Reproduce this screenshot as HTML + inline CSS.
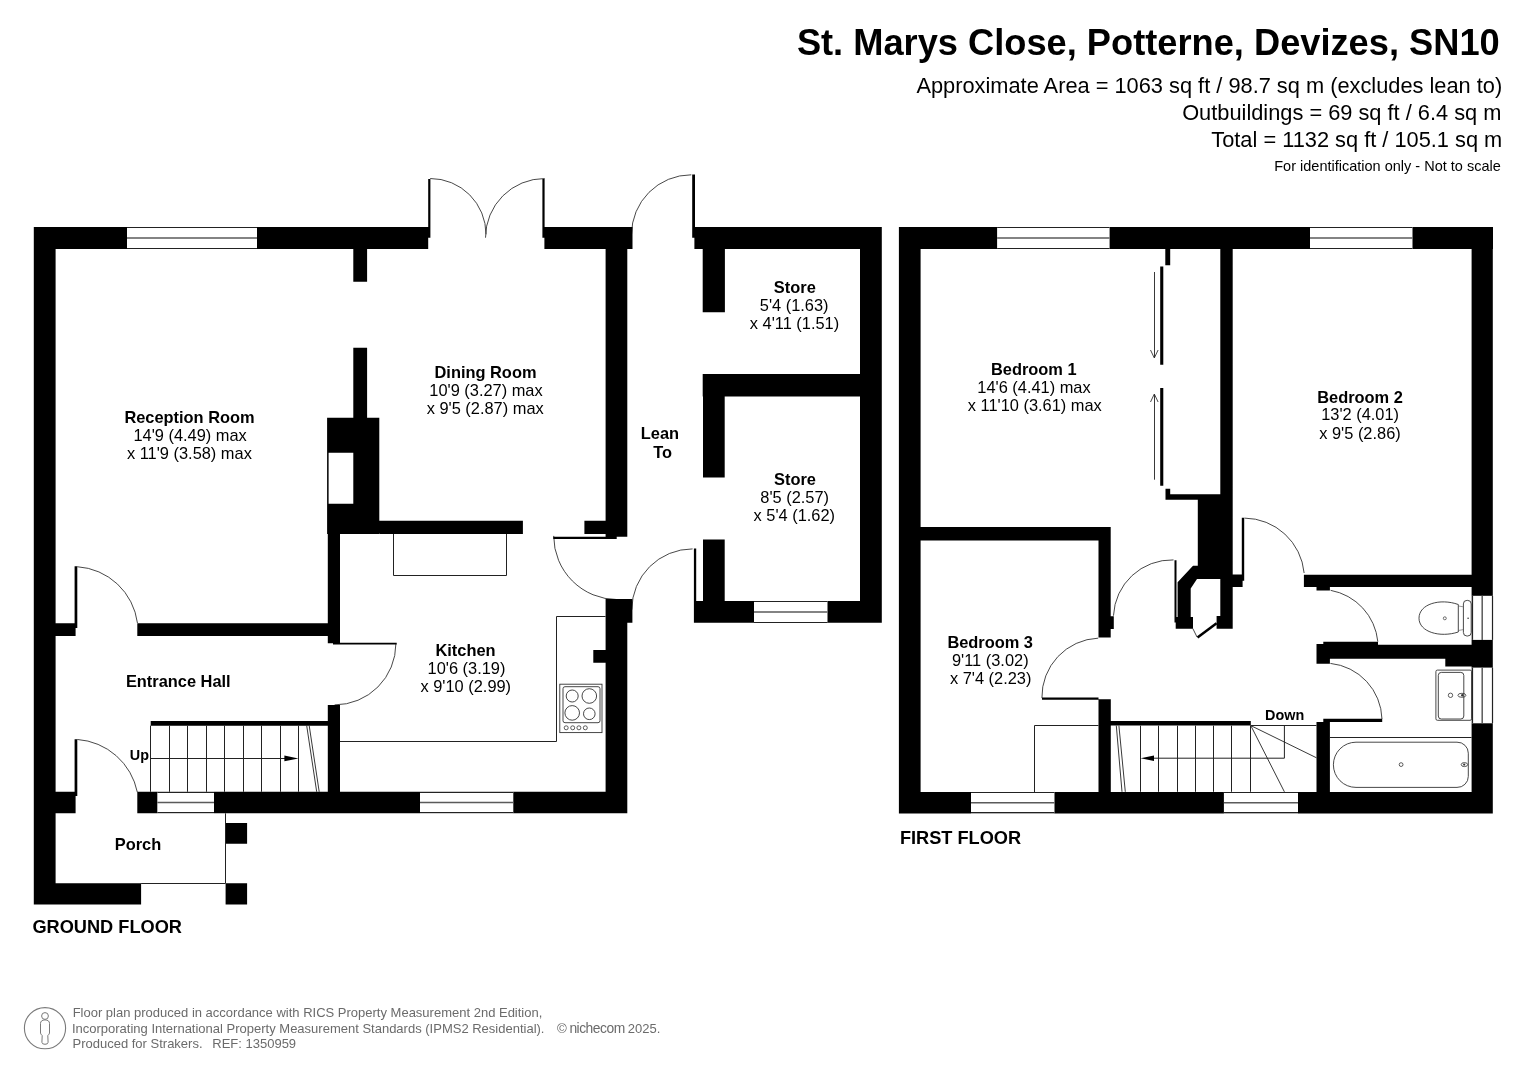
<!DOCTYPE html>
<html><head><meta charset="utf-8"><title>St. Marys Close floor plan</title>
<style>
html,body{margin:0;padding:0;background:#fff;}
body{width:1527px;height:1080px;overflow:hidden;}
svg{display:block;font-family:"Liberation Sans",sans-serif;will-change:transform;}
</style></head><body>
<svg width="1527" height="1080" viewBox="0 0 1527 1080">
<rect width="1527" height="1080" fill="#fff"/>
<path d="M430.20 178.50 A55.80 55.80 0 0 1 486.00 234.30" fill="none" stroke="#333" stroke-width="0.9"/>
<path d="M544.70 178.50 A59.20 59.20 0 0 0 485.50 237.70" fill="none" stroke="#333" stroke-width="0.9"/>
<path d="M77.30 566.73 A64.80 64.80 0 0 1 137.46 623.08" fill="none" stroke="#333" stroke-width="0.9"/>
<path d="M553.70 535.90 A63.70 63.70 0 0 0 617.40 599.60" fill="none" stroke="#333" stroke-width="0.9"/>
<path d="M395.90 643.60 A61.30 61.30 0 0 1 334.60 704.90" fill="none" stroke="#333" stroke-width="0.9"/>
<path d="M77.31 739.46 A66.00 66.00 0 0 1 137.34 792.19" fill="none" stroke="#333" stroke-width="0.9"/>
<path d="M691.30 174.80 A59.80 59.80 0 0 0 631.50 234.60" fill="none" stroke="#333" stroke-width="0.9"/>
<path d="M692.60 548.90 A60.80 60.80 0 0 0 631.80 609.70" fill="none" stroke="#333" stroke-width="0.9"/>
<path d="M1098.20 638.15 A58.80 58.80 0 0 0 1041.91 698.10" fill="none" stroke="#333" stroke-width="0.9"/>
<path d="M1173.50 559.92 A58.50 58.50 0 0 0 1113.46 615.70" fill="none" stroke="#333" stroke-width="0.9"/>
<path d="M1244.50 518.10 A60.50 60.50 0 0 1 1304.14 573.00" fill="none" stroke="#333" stroke-width="0.9"/>
<path d="M1330.61 590.34 A57.90 57.90 0 0 1 1377.82 641.61" fill="none" stroke="#333" stroke-width="0.9"/>
<path d="M1330.38 663.40 A57.50 57.50 0 0 1 1381.98 719.00" fill="none" stroke="#333" stroke-width="0.9"/>
<path fill="#000" d="M33.80 227.00H428.20V249.00H33.80ZM428.20 179.00H430.40V237.80H428.20ZM542.40 179.00H544.60V237.80H542.40ZM544.40 227.00H632.50V249.00H544.40ZM33.80 227.00H55.60V904.40H33.80ZM353.30 249.00H367.10V281.80H353.30ZM353.30 347.80H367.10V418.00H353.30ZM327.10 417.80H379.30V452.70H327.10ZM353.30 452.70H379.30V534.00H353.30ZM327.10 503.80H379.30V534.00H327.10ZM327.10 452.70H328.60V503.80H327.10ZM379.30 520.70H522.90V534.00H379.30ZM327.80 534.00H340.00V643.30H327.80ZM327.80 704.90H340.00V813.30H327.80ZM55.60 623.30H75.60V636.00H55.60ZM137.30 623.30H327.80V636.00H137.30ZM74.60 566.20H77.30V628.00H74.60ZM605.60 249.00H627.30V536.70H605.60ZM584.40 520.70H627.30V534.00H584.40ZM553.30 536.80H616.70V539.00H553.30ZM605.60 598.90H632.40V622.70H605.60ZM605.60 622.00H627.30V813.30H605.60ZM593.30 650.00H606.00V662.70H593.30ZM333.00 642.70H396.70V644.60H333.00ZM55.60 791.80H75.60V813.30H55.60ZM137.30 791.80H627.30V813.30H137.30ZM74.60 739.30H77.30V796.00H74.60ZM33.80 883.30H141.10V904.40H33.80ZM225.60 822.90H247.10V843.80H225.60ZM225.60 883.30H247.10V904.40H225.60ZM150.70 721.10H327.80V725.80H150.70ZM694.40 227.00H881.80V249.00H694.40ZM692.20 174.40H695.00V237.80H692.20ZM860.00 227.00H881.80V622.70H860.00ZM702.70 249.00H724.90V312.20H702.70ZM702.70 374.00H860.00V396.40H702.70ZM703.00 374.00H724.70V477.50H703.00ZM703.00 539.40H724.70V601.00H703.00ZM693.90 601.00H881.20V622.70H693.90ZM693.90 548.50H696.20V611.00H693.90ZM898.90 227.00H1493.00V249.00H898.90ZM898.90 227.00H920.60V813.40H898.90ZM1471.60 227.00H1492.80V813.40H1471.60ZM898.90 792.00H1492.80V813.40H898.90ZM1220.30 249.00H1232.70V628.70H1220.30ZM1165.30 249.00H1170.20V265.20H1165.30ZM1160.20 266.40H1163.30V364.80H1160.20ZM1160.20 388.00H1163.30V485.80H1160.20ZM1165.50 488.70H1170.20V499.70H1165.50ZM1165.50 494.20H1220.30V499.70H1165.50ZM1197.80 494.20H1220.30V565.70H1197.80ZM1193 565.7 L1220.3 565.7 L1220.3 579.1 L1197 579.1 L1190.7 588.6 L1190.7 616.9 L1193 616.9 L1193 628.7 L1175.7 628.7 L1175.7 616.9 L1177.6 616.9 L1177.6 582.3 ZM1216.60 616.10H1232.70V628.70H1216.60ZM920.60 526.90H1110.70V540.40H920.60ZM1098.50 526.90H1110.70V637.60H1098.50ZM1110.70 616.20H1113.80V629.00H1110.70ZM1098.50 699.30H1110.80V813.40H1098.50ZM1042.00 697.60H1098.50V699.80H1042.00ZM1174.50 560.20H1176.50V622.40H1174.50ZM1241.80 517.80H1244.20V580.70H1241.80ZM1232.70 574.40H1242.60V587.00H1232.70ZM1303.90 574.70H1471.60V587.00H1303.90ZM1316.50 587.00H1329.90V590.50H1316.50ZM1323.30 641.70H1378.00V644.80H1323.30ZM1316.50 644.80H1471.60V658.70H1316.50ZM1316.50 644.00H1329.90V663.70H1316.50ZM1445.30 658.70H1471.60V666.50H1445.30ZM1323.30 718.80H1382.20V722.00H1323.30ZM1316.50 722.00H1329.90V813.40H1316.50ZM1110.80 721.10H1250.80V725.60H1110.80Z"/>
<rect x="127.00" y="227.00" width="130.00" height="22.00" fill="#fff"/>
<line x1="127.0" y1="227.5" x2="257.0" y2="227.5" stroke="#222" stroke-width="1.2"/>
<line x1="127.0" y1="238.0" x2="257.0" y2="238.0" stroke="#5a5a5a" stroke-width="1.5"/>
<line x1="127.0" y1="248.5" x2="257.0" y2="248.5" stroke="#222" stroke-width="1.2"/>
<rect x="157.30" y="791.80" width="56.70" height="21.50" fill="#fff"/>
<line x1="157.3" y1="792.5" x2="214.0" y2="792.5" stroke="#222" stroke-width="1.2"/>
<line x1="157.3" y1="802.5" x2="214.0" y2="802.5" stroke="#5a5a5a" stroke-width="1.5"/>
<line x1="157.3" y1="812.5" x2="214.0" y2="812.5" stroke="#222" stroke-width="1.2"/>
<rect x="420.00" y="791.80" width="93.30" height="21.50" fill="#fff"/>
<line x1="420.0" y1="792.5" x2="513.3" y2="792.5" stroke="#222" stroke-width="1.2"/>
<line x1="420.0" y1="802.5" x2="513.3" y2="802.5" stroke="#5a5a5a" stroke-width="1.5"/>
<line x1="420.0" y1="812.5" x2="513.3" y2="812.5" stroke="#222" stroke-width="1.2"/>
<line x1="225.5" y1="813.3" x2="225.5" y2="883.3" stroke="#222" stroke-width="1.0"/>
<line x1="141.1" y1="883.5" x2="225.6" y2="883.5" stroke="#222" stroke-width="1.0"/>
<line x1="150.5" y1="725.6" x2="150.5" y2="791.8" stroke="#222" stroke-width="1.0"/>
<line x1="169.5" y1="725.6" x2="169.5" y2="791.8" stroke="#222" stroke-width="1.0"/>
<line x1="187.5" y1="725.6" x2="187.5" y2="791.8" stroke="#222" stroke-width="1.0"/>
<line x1="206.5" y1="725.6" x2="206.5" y2="791.8" stroke="#222" stroke-width="1.0"/>
<line x1="224.5" y1="725.6" x2="224.5" y2="791.8" stroke="#222" stroke-width="1.0"/>
<line x1="243.5" y1="725.6" x2="243.5" y2="791.8" stroke="#222" stroke-width="1.0"/>
<line x1="261.5" y1="725.6" x2="261.5" y2="791.8" stroke="#222" stroke-width="1.0"/>
<line x1="280.5" y1="725.6" x2="280.5" y2="791.8" stroke="#222" stroke-width="1.0"/>
<line x1="298.5" y1="725.6" x2="298.5" y2="791.8" stroke="#222" stroke-width="1.0"/>
<line x1="306.7" y1="725.6" x2="316.7" y2="791.8" stroke="#222" stroke-width="0.9"/>
<line x1="309.2" y1="725.6" x2="319.2" y2="791.8" stroke="#222" stroke-width="0.9"/>
<line x1="150.7" y1="758.5" x2="290.0" y2="758.5" stroke="#222" stroke-width="1.0"/>
<path d="M284.4 755.6 L298.4 758.4 L284.4 761.2 Z" fill="#000"/>
<path d="M393.5 534 V575.5 H506.5 V534" fill="none" stroke="#222" stroke-width="1"/>
<path d="M340 741.5 L556.5 741.5 L556.5 616.5 L605.6 616.5" fill="none" stroke="#222" stroke-width="1"/>
<rect x="559.8" y="684.2" width="42.2" height="48.4" fill="none" stroke="#333" stroke-width="0.9"/>
<rect x="563" y="686.7" width="37" height="36" rx="2" fill="none" stroke="#333" stroke-width="0.9"/>
<circle cx="572.2" cy="696" r="6" fill="none" stroke="#333" stroke-width="0.9"/>
<circle cx="589.3" cy="696" r="7.3" fill="none" stroke="#333" stroke-width="0.9"/>
<circle cx="572.2" cy="712.9" r="7.3" fill="none" stroke="#333" stroke-width="0.9"/>
<circle cx="589.3" cy="713.8" r="5.8" fill="none" stroke="#333" stroke-width="0.9"/>
<circle cx="566.2" cy="727.8" r="2" fill="none" stroke="#333" stroke-width="0.8"/>
<circle cx="572.7" cy="727.8" r="2" fill="none" stroke="#333" stroke-width="0.8"/>
<circle cx="578.9" cy="727.8" r="2" fill="none" stroke="#333" stroke-width="0.8"/>
<circle cx="585.3" cy="727.8" r="2" fill="none" stroke="#333" stroke-width="0.8"/>
<rect x="754.00" y="601.00" width="73.50" height="21.70" fill="#fff"/>
<line x1="754.0" y1="601.5" x2="827.5" y2="601.5" stroke="#222" stroke-width="1.2"/>
<line x1="754.0" y1="611.9" x2="827.5" y2="611.9" stroke="#5a5a5a" stroke-width="1.5"/>
<line x1="754.0" y1="622.5" x2="827.5" y2="622.5" stroke="#222" stroke-width="1.2"/>
<rect x="997.10" y="227.00" width="112.50" height="22.00" fill="#fff"/>
<line x1="997.1" y1="227.5" x2="1109.6" y2="227.5" stroke="#222" stroke-width="1.2"/>
<line x1="997.1" y1="238.0" x2="1109.6" y2="238.0" stroke="#5a5a5a" stroke-width="1.5"/>
<line x1="997.1" y1="248.5" x2="1109.6" y2="248.5" stroke="#222" stroke-width="1.2"/>
<rect x="1310.00" y="227.00" width="102.50" height="22.00" fill="#fff"/>
<line x1="1310.0" y1="227.5" x2="1412.5" y2="227.5" stroke="#222" stroke-width="1.2"/>
<line x1="1310.0" y1="238.0" x2="1412.5" y2="238.0" stroke="#5a5a5a" stroke-width="1.5"/>
<line x1="1310.0" y1="248.5" x2="1412.5" y2="248.5" stroke="#222" stroke-width="1.2"/>
<rect x="971.00" y="792.00" width="83.50" height="21.40" fill="#fff"/>
<line x1="971.0" y1="792.5" x2="1054.5" y2="792.5" stroke="#222" stroke-width="1.2"/>
<line x1="971.0" y1="802.7" x2="1054.5" y2="802.7" stroke="#5a5a5a" stroke-width="1.5"/>
<line x1="971.0" y1="812.5" x2="1054.5" y2="812.5" stroke="#222" stroke-width="1.2"/>
<rect x="1223.90" y="792.00" width="74.10" height="21.40" fill="#fff"/>
<line x1="1223.9" y1="792.5" x2="1298.0" y2="792.5" stroke="#222" stroke-width="1.2"/>
<line x1="1223.9" y1="802.7" x2="1298.0" y2="802.7" stroke="#5a5a5a" stroke-width="1.5"/>
<line x1="1223.9" y1="812.5" x2="1298.0" y2="812.5" stroke="#222" stroke-width="1.2"/>
<rect x="1471.60" y="595.80" width="21.20" height="44.10" fill="#fff"/>
<line x1="1472.5" y1="595.8" x2="1472.5" y2="639.9" stroke="#222" stroke-width="1.2"/>
<line x1="1482.2" y1="595.8" x2="1482.2" y2="639.9" stroke="#5a5a5a" stroke-width="1.5"/>
<line x1="1492.5" y1="595.8" x2="1492.5" y2="639.9" stroke="#222" stroke-width="1.2"/>
<rect x="1471.60" y="667.60" width="21.20" height="55.70" fill="#fff"/>
<line x1="1472.5" y1="667.6" x2="1472.5" y2="723.3" stroke="#222" stroke-width="1.2"/>
<line x1="1482.2" y1="667.6" x2="1482.2" y2="723.3" stroke="#5a5a5a" stroke-width="1.5"/>
<line x1="1492.5" y1="667.6" x2="1492.5" y2="723.3" stroke="#222" stroke-width="1.2"/>
<line x1="1154.5" y1="272.0" x2="1154.5" y2="358.0" stroke="#222" stroke-width="0.9"/>
<path d="M1150.5 350 L1154.3 358 L1158.1 350" fill="none" stroke="#333" stroke-width="0.9"/>
<line x1="1154.5" y1="394.0" x2="1154.5" y2="479.7" stroke="#222" stroke-width="0.9"/>
<path d="M1150.5 402 L1154.3 394 L1158.1 402" fill="none" stroke="#333" stroke-width="0.9"/>
<path d="M1197.5 637.6 L1216.6 623.2" stroke="#000" stroke-width="2.5"/>
<line x1="1192.8" y1="628.5" x2="1197.0" y2="637.0" stroke="#333" stroke-width="0.9"/>
<path d="M1098.5 725.5 L1034.5 725.5 L1034.5 792" fill="none" stroke="#222" stroke-width="1"/>
<line x1="1250.8" y1="725.5" x2="1316.5" y2="725.5" stroke="#222" stroke-width="1.0"/>
<line x1="1140.5" y1="725.6" x2="1140.5" y2="791.8" stroke="#222" stroke-width="1.0"/>
<line x1="1158.5" y1="725.6" x2="1158.5" y2="791.8" stroke="#222" stroke-width="1.0"/>
<line x1="1177.5" y1="725.6" x2="1177.5" y2="791.8" stroke="#222" stroke-width="1.0"/>
<line x1="1195.5" y1="725.6" x2="1195.5" y2="791.8" stroke="#222" stroke-width="1.0"/>
<line x1="1213.5" y1="725.6" x2="1213.5" y2="791.8" stroke="#222" stroke-width="1.0"/>
<line x1="1231.5" y1="725.6" x2="1231.5" y2="791.8" stroke="#222" stroke-width="1.0"/>
<line x1="1250.5" y1="725.6" x2="1250.5" y2="791.8" stroke="#222" stroke-width="1.0"/>
<line x1="1116.3" y1="725.6" x2="1122.0" y2="791.8" stroke="#222" stroke-width="0.9"/>
<line x1="1118.9" y1="725.6" x2="1125.3" y2="791.8" stroke="#222" stroke-width="0.9"/>
<path d="M1284.4 725.6 L1284.4 758.2 L1148 758.2" fill="none" stroke="#222" stroke-width="1"/>
<path d="M1140.7 758.2 L1154 755.4 L1154 761 Z" fill="#000"/>
<line x1="1250.8" y1="725.6" x2="1284.4" y2="791.8" stroke="#222" stroke-width="0.9"/>
<line x1="1250.8" y1="725.6" x2="1316.5" y2="757.8" stroke="#222" stroke-width="0.9"/>
<line x1="1329.9" y1="737.5" x2="1471.6" y2="737.5" stroke="#222" stroke-width="1.0"/>
<path d="M1356 742.2 L1457 742.2 A11 11 0 0 1 1468.3 753.2 L1468.3 776.4 A11 11 0 0 1 1457 787.4 L1356 787.4 A22.6 22.6 0 0 1 1356 742.2 Z" fill="none" stroke="#333" stroke-width="0.9"/>
<circle cx="1401.1" cy="764.6" r="1.9" fill="none" stroke="#333" stroke-width="0.8"/>
<ellipse cx="1464.4" cy="764.6" rx="3.2" ry="2" fill="none" stroke="#333" stroke-width="0.8"/><circle cx="1464.2" cy="764.6" r="1.1" fill="#333"/>
<rect x="1435.9" y="670.1" width="35.7" height="50.2" rx="1.5" fill="none" stroke="#333" stroke-width="0.9"/>
<rect x="1438.3" y="672.4" width="25.5" height="46.6" rx="3" fill="none" stroke="#333" stroke-width="0.9"/>
<circle cx="1450.5" cy="695.3" r="2.2" fill="none" stroke="#333" stroke-width="0.8"/>
<ellipse cx="1461.9" cy="695.3" rx="4" ry="2" fill="none" stroke="#333" stroke-width="0.8"/><circle cx="1462.3" cy="695.3" r="1.2" fill="#333"/>
<rect x="1463.4" y="600.4" width="7.8" height="35.6" rx="3.5" fill="none" stroke="#333" stroke-width="0.9"/>
<path d="M1458.3 604.5 C1440 598 1419 604 1419 618.2 C1419 632 1440 638 1458.3 632 Z" fill="none" stroke="#333" stroke-width="0.9"/>
<path d="M1458.3 606 L1463.4 606.8 M1458.3 630.5 L1463.4 629.6" stroke="#555" stroke-width="0.6"/>
<circle cx="1444.8" cy="618.3" r="1.5" fill="none" stroke="#333" stroke-width="0.7"/>
<circle cx="1468.1" cy="618.3" r="0.8" fill="#333"/>
<text x="189.5" y="422.8" font-size="16.4" font-weight="bold" text-anchor="middle" fill="#000">Reception Room</text>
<text x="190.1" y="441.1" font-size="16.4" font-weight="normal" text-anchor="middle" fill="#000">14'9 (4.49) max</text>
<text x="189.4" y="459.4" font-size="16.4" font-weight="normal" text-anchor="middle" fill="#000">x 11'9 (3.58) max</text>
<text x="485.5" y="377.8" font-size="16.4" font-weight="bold" text-anchor="middle" fill="#000">Dining Room</text>
<text x="486.0" y="395.8" font-size="16.4" font-weight="normal" text-anchor="middle" fill="#000">10'9 (3.27) max</text>
<text x="485.2" y="413.9" font-size="16.4" font-weight="normal" text-anchor="middle" fill="#000">x 9'5 (2.87) max</text>
<text x="794.8" y="292.8" font-size="16.4" font-weight="bold" text-anchor="middle" fill="#000">Store</text>
<text x="794.2" y="311.3" font-size="16.4" font-weight="normal" text-anchor="middle" fill="#000">5'4 (1.63)</text>
<text x="794.5" y="328.7" font-size="16.4" font-weight="normal" text-anchor="middle" fill="#000">x 4'11 (1.51)</text>
<text x="660.0" y="439.4" font-size="16.4" font-weight="bold" text-anchor="middle" fill="#000">Lean</text>
<text x="662.7" y="457.7" font-size="16.4" font-weight="bold" text-anchor="middle" fill="#000">To</text>
<text x="795.0" y="484.6" font-size="16.4" font-weight="bold" text-anchor="middle" fill="#000">Store</text>
<text x="794.7" y="502.9" font-size="16.4" font-weight="normal" text-anchor="middle" fill="#000">8'5 (2.57)</text>
<text x="794.3" y="521.2" font-size="16.4" font-weight="normal" text-anchor="middle" fill="#000">x 5'4 (1.62)</text>
<text x="465.5" y="655.7" font-size="16.4" font-weight="bold" text-anchor="middle" fill="#000">Kitchen</text>
<text x="466.5" y="674.4" font-size="16.4" font-weight="normal" text-anchor="middle" fill="#000">10'6 (3.19)</text>
<text x="465.8" y="691.7" font-size="16.4" font-weight="normal" text-anchor="middle" fill="#000">x 9'10 (2.99)</text>
<text x="178.3" y="686.7" font-size="16.4" font-weight="bold" text-anchor="middle" fill="#000">Entrance Hall</text>
<text x="138.0" y="850.0" font-size="16.4" font-weight="bold" text-anchor="middle" fill="#000">Porch</text>
<text x="139.4" y="759.9" font-size="14.4" font-weight="bold" text-anchor="middle" fill="#000">Up</text>
<text x="1033.8" y="374.6" font-size="16.4" font-weight="bold" text-anchor="middle" fill="#000">Bedroom 1</text>
<text x="1034.0" y="392.8" font-size="16.4" font-weight="normal" text-anchor="middle" fill="#000">14'6 (4.41) max</text>
<text x="1034.8" y="411.4" font-size="16.4" font-weight="normal" text-anchor="middle" fill="#000">x 11'10 (3.61) max</text>
<text x="1360.0" y="402.7" font-size="16.4" font-weight="bold" text-anchor="middle" fill="#000">Bedroom 2</text>
<text x="1360.1" y="420.4" font-size="16.4" font-weight="normal" text-anchor="middle" fill="#000">13'2 (4.01)</text>
<text x="1360.0" y="438.7" font-size="16.4" font-weight="normal" text-anchor="middle" fill="#000">x 9'5 (2.86)</text>
<text x="990.2" y="648.0" font-size="16.4" font-weight="bold" text-anchor="middle" fill="#000">Bedroom 3</text>
<text x="990.3" y="666.1" font-size="16.4" font-weight="normal" text-anchor="middle" fill="#000">9'11 (3.02)</text>
<text x="990.7" y="684.4" font-size="16.4" font-weight="normal" text-anchor="middle" fill="#000">x 7'4 (2.23)</text>
<text x="1284.7" y="719.8" font-size="14.4" font-weight="bold" text-anchor="middle" fill="#000">Down</text>
<text x="107.2" y="933.0" font-size="18.2" font-weight="bold" text-anchor="middle" fill="#000">GROUND FLOOR</text>
<text x="960.5" y="844.1" font-size="18.2" font-weight="bold" text-anchor="middle" fill="#000">FIRST FLOOR</text>
<text x="1148.3" y="54.8" font-size="36.248" font-weight="bold" text-anchor="middle" fill="#000">St. Marys Close, Potterne, Devizes, SN10</text>
<text x="1209.3" y="93.0" font-size="21.8" font-weight="normal" text-anchor="middle" fill="#000">Approximate Area = 1063 sq ft / 98.7 sq m (excludes lean to)</text>
<text x="1341.8" y="120.1" font-size="21.8" font-weight="normal" text-anchor="middle" fill="#000">Outbuildings = 69 sq ft / 6.4 sq m</text>
<text x="1356.8" y="146.5" font-size="21.8" font-weight="normal" text-anchor="middle" fill="#000">Total = 1132 sq ft / 105.1 sq m</text>
<text x="1387.5" y="171.3" font-size="14.507" font-weight="normal" text-anchor="middle" fill="#000">For identification only - Not to scale</text>
<text x="307.5" y="1017.0" font-size="13" font-weight="normal" text-anchor="middle" fill="#6b6b6b">Floor plan produced in accordance with RICS Property Measurement 2nd Edition,</text>
<text x="308.2" y="1032.7" font-size="13" font-weight="normal" text-anchor="middle" fill="#6b6b6b">Incorporating International Property Measurement Standards (IPMS2 Residential).</text>
<text x="137.5" y="1048.4" font-size="13" font-weight="normal" text-anchor="middle" fill="#6b6b6b">Produced for Strakers.</text>
<text x="254.2" y="1048.4" font-size="13" font-weight="normal" text-anchor="middle" fill="#6b6b6b">REF: 1350959</text>
<text x="644.0" y="1032.9" font-size="13" font-weight="normal" text-anchor="middle" fill="#6b6b6b">2025.</text>
<circle cx="45" cy="1028.2" r="20.6" fill="none" stroke="#7a7a7a" stroke-width="1.1"/>
<circle cx="45" cy="1016" r="3.4" fill="none" stroke="#7a7a7a" stroke-width="1"/>
<path d="M45 1019.9 C42 1019.9 40.5 1021.4 40.5 1023.4 L40.5 1033.1 Q40.6 1034 42.2 1035.6 L41.9 1042.3 Q42 1044.3 45 1044.3 Q48 1044.3 48.1 1042.3 L47.8 1035.6 Q49.4 1034 49.5 1033.1 L49.5 1023.4 C49.5 1021.4 48 1019.9 45 1019.9 Z" fill="none" stroke="#7a7a7a" stroke-width="1"/>
<text x="557" y="1032.8" font-size="13.5" fill="#6b6b6b" textLength="9.8" lengthAdjust="spacingAndGlyphs">&#169;</text>
<text x="569.4" y="1032.9" font-size="14" fill="#6b6b6b" textLength="55.3" lengthAdjust="spacingAndGlyphs" letter-spacing="-0.5">nichecom</text>
</svg>
</body></html>
